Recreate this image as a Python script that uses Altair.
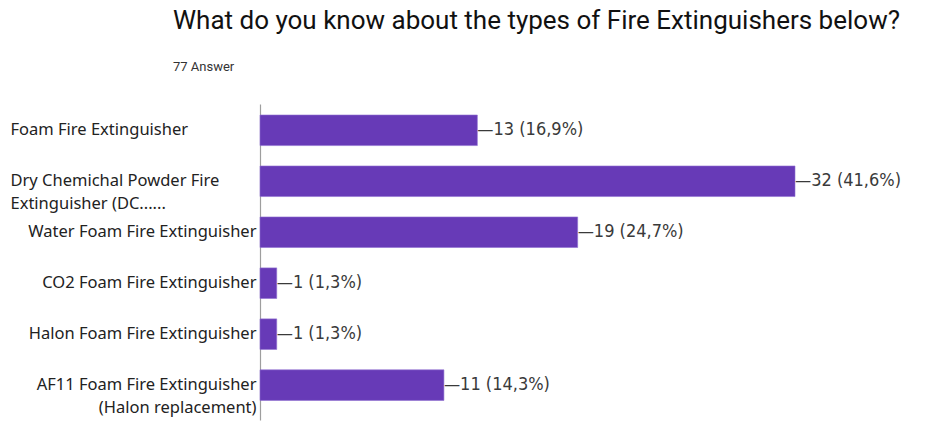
import json
import altair as alt
import pandas as pd

categories = [
    "Foam Fire Extinguisher",
    "Dry Chemichal Powder Fire\nExtinguisher (DC......",
    "Water Foam Fire Extinguisher",
    "CO2 Foam Fire Extinguisher",
    "Halon Foam Fire Extinguisher",
    "AF11 Foam Fire Extinguisher\n(Halon replacement)",
]
counts = [13, 32, 19, 1, 1, 11]
percents = ["16,9%", "41,6%", "24,7%", "1,3%", "1,3%", "14,3%"]
left_aligned = categories[:2]

df = pd.DataFrame({"cat": categories, "count": counts, "pct": percents})

PURPLE = "#673ab7"
LBL_FONT = "Noto Sans"
VAL_FONT = "Liberation Sans Narrow, DejaVu Sans Condensed, Roboto"

in_left = "indexof(" + json.dumps(left_aligned) + ", datum.value) >= 0"
split_lbl = "split(datum.label, '\\n')"

y_scale = alt.Scale(domain=categories, paddingInner=0.4, paddingOuter=0.3, align=0.36)
x_scale = alt.Scale(domain=[0, 32], nice=False)

base = alt.Chart(df)

common_axis = dict(
    orient="left",
    ticks=False,
    tickSize=0,
    labelFont=LBL_FONT,
    labelFontSize=16.5,
    labelColor="#222222",
    labelLineHeight=23,
    labelLimit=300,
)

bars = base.mark_bar(color=PURPLE, stroke="#8e6fd0", strokeWidth=0.6).encode(
    x=alt.X("count:Q", scale=x_scale, axis=None),
    y=alt.Y(
        "cat:N",
        sort=categories,
        scale=y_scale,
        title=None,
        axis=alt.Axis(
            labelExpr=f"{in_left} ? '' : {split_lbl}",
            labelAlign="right",
            labelPadding=4,
            domain=True,
            domainColor="#9e9e9e",
            domainWidth=1.2,
            **common_axis,
        ),
    ),
)

values = base.transform_calculate(
    txt="'\u2014' + datum.count + ' (' + datum.pct + ')'"
).mark_text(
    align="left", baseline="middle", dx=0, font=VAL_FONT, fontSize=18, color="#3a3a3a"
).encode(
    x=alt.X("count:Q", scale=x_scale, axis=None),
    y=alt.Y(
        "cat:N",
        sort=categories,
        scale=y_scale,
        title=None,
        axis=alt.Axis(
            offset=250,
            labelExpr=f"{in_left} ? {split_lbl} : ''",
            labelAlign="left",
            labelPadding=0,
            domain=False,
            **common_axis,
        ),
    ),
    text="txt:N",
)

chart = (
    alt.layer(bars, values)
    .resolve_axis(y="independent")
    .properties(
        width=535,
        height=316,
        padding={"left": 10, "top": 8, "right": 10, "bottom": 3},
        title=alt.TitleParams(
            text="What do you know about the types of Fire Extinguishers below?",
            subtitle="77 Answer",
            anchor="start",
            frame="bounds",
            dx=163,
            font="Roboto",
            fontSize=26,
            fontWeight="normal",
            color="#111111",
            subtitleFont="Roboto",
            subtitleFontSize=13,
            subtitleColor="#333333",
            subtitlePadding=27,
            offset=30,
        ),
    )
    .configure_view(stroke=None)
)

chart.save("out.html", embed_options={"renderer": "svg", "actions": False})
